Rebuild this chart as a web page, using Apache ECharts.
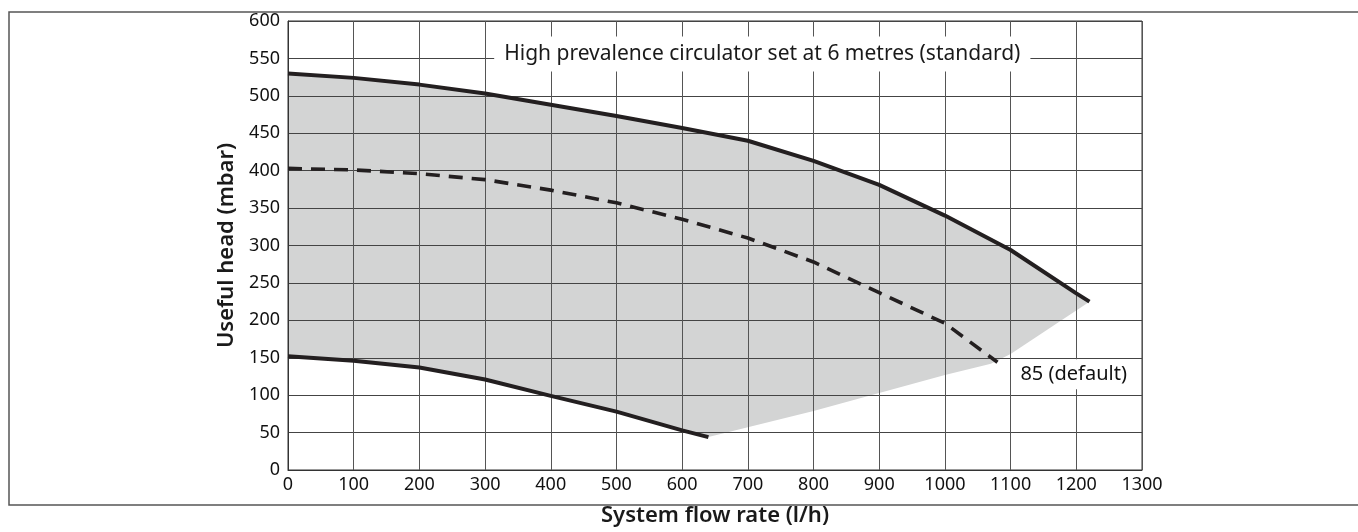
<!DOCTYPE html>
<html>
<head>
<meta charset="utf-8">
<script src="https://cdn.jsdelivr.net/npm/echarts@6/dist/echarts.min.js"></script>
<style>
html,body{margin:0;padding:0;background:#fff;}
#chart{width:1358px;height:532px;}
</style>
</head>
<body>
<div id="chart"></div>
<script>
// Flow rate (l/h) vs useful head (mbar)
const maxCurve = [[0,530],[100,524],[200,515],[300,503],[400,488],[500,473],[600,457],[700,440],[800,413],[900,381],[1000,340],[1100,294],[1200,236],[1220,225]];
const defaultCurve = [[0,403],[100,401],[200,396],[300,388],[400,374],[500,357],[600,335],[700,310],[800,278],[900,237],[1000,196],[1080,144]];
const minCurve = [[0,152],[100,146],[200,137],[300,121],[400,99],[500,78],[600,53],[640,44]];
const regionEdge = [[1220,225],[1100,155],[1070,142],[1000,127],[900,103],[800,79],[640,44]];
const titleText = 'High prevalence circulator set at 6 metres (standard)';
const defaultLabel = '85 (default)';
const xAxisName = 'System flow rate (l/h)';
const yAxisName = 'Useful head (mbar)';

const FONT = '"Noto Sans", "Open Sans", sans-serif';
const INK = '#231f20';

const chart = echarts.init(document.getElementById('chart'), null, {renderer:'canvas'});
chart.setOption({
  animation:false,
  backgroundColor:'#fff',
  textStyle:{fontFamily:FONT},
  graphic:[
    {type:'polyline', shape:{points:[[1358,12],[9,12],[9,505],[1358,505]]}, style:{stroke:'#555',lineWidth:1.5,fill:null}, silent:true}
  ],
  grid:{left:288, right:216, top:21, bottom:57, show:true, borderColor:'#333', borderWidth:1},
  xAxis:{
    type:'value', min:0, max:1300, interval:100,
    name:xAxisName, nameLocation:'middle', nameGap:46,
    nameTextStyle:{fontFamily:FONT, fontSize:22, fontWeight:600, color:'#1a1a1a', verticalAlign:'middle'},
    axisLine:{show:true, lineStyle:{color:'#333', width:1}},
    axisTick:{show:false},
    axisLabel:{fontFamily:FONT, fontSize:18, color:'#111', margin:6, formatter:v => String(v)},
    splitLine:{show:true, lineStyle:{color:'#555', width:1}}
  },
  yAxis:{
    type:'value', min:0, max:600, interval:50,
    name:yAxisName, nameLocation:'middle', nameGap:61, nameRotate:90,
    nameTextStyle:{fontFamily:FONT, fontSize:22, fontWeight:600, color:'#1a1a1a', verticalAlign:'middle'},
    axisLine:{show:true, lineStyle:{color:'#333', width:1}},
    axisTick:{show:false},
    axisLabel:{fontFamily:FONT, fontSize:18, color:'#111', margin:8, formatter:v => String(v)},
    splitLine:{show:true, lineStyle:{color:'#444', width:1}}
  },
  series:[
    {
      type:'custom', z:-1, silent:true,
      data:[[0,0]], encode:{x:0,y:1},
      renderItem:function(params, api){
        const ring = maxCurve.concat(regionEdge.slice(1), minCurve.slice().reverse());
        const pts = ring.map(p => api.coord(p));
        return {type:'polygon', shape:{points:pts}, style:{fill:'#d3d4d4', stroke:null}};
      }
    },
    {
      type:'line', data:maxCurve, showSymbol:false, symbol:'none',
      lineStyle:{color:INK, width:4}, z:3,
      markPoint:{
        symbol:'circle', symbolSize:1, itemStyle:{color:'rgba(0,0,0,0)'},
        data:[{coord:[722,556], value:titleText}],
        label:{show:true, position:'inside', formatter:titleText, fontFamily:FONT, fontSize:21, color:'#1a1a1a', backgroundColor:'#fff', padding:[7,10]}
      }
    },
    {
      type:'line', data:defaultCurve, showSymbol:false, symbol:'none',
      lineStyle:{color:INK, width:3.6, type:[14,9]}, z:3,
      markPoint:{
        symbol:'circle', symbolSize:1, itemStyle:{color:'rgba(0,0,0,0)'},
        data:[{coord:[1196,128], value:defaultLabel}],
        label:{show:true, position:'inside', formatter:defaultLabel, fontFamily:FONT, fontSize:20, color:'#111', backgroundColor:'#fff', padding:[5,5]}
      }
    },
    {
      type:'line', data:minCurve, showSymbol:false, symbol:'none',
      lineStyle:{color:INK, width:4}, z:3
    }
  ]
});
</script>
</body>
</html>
